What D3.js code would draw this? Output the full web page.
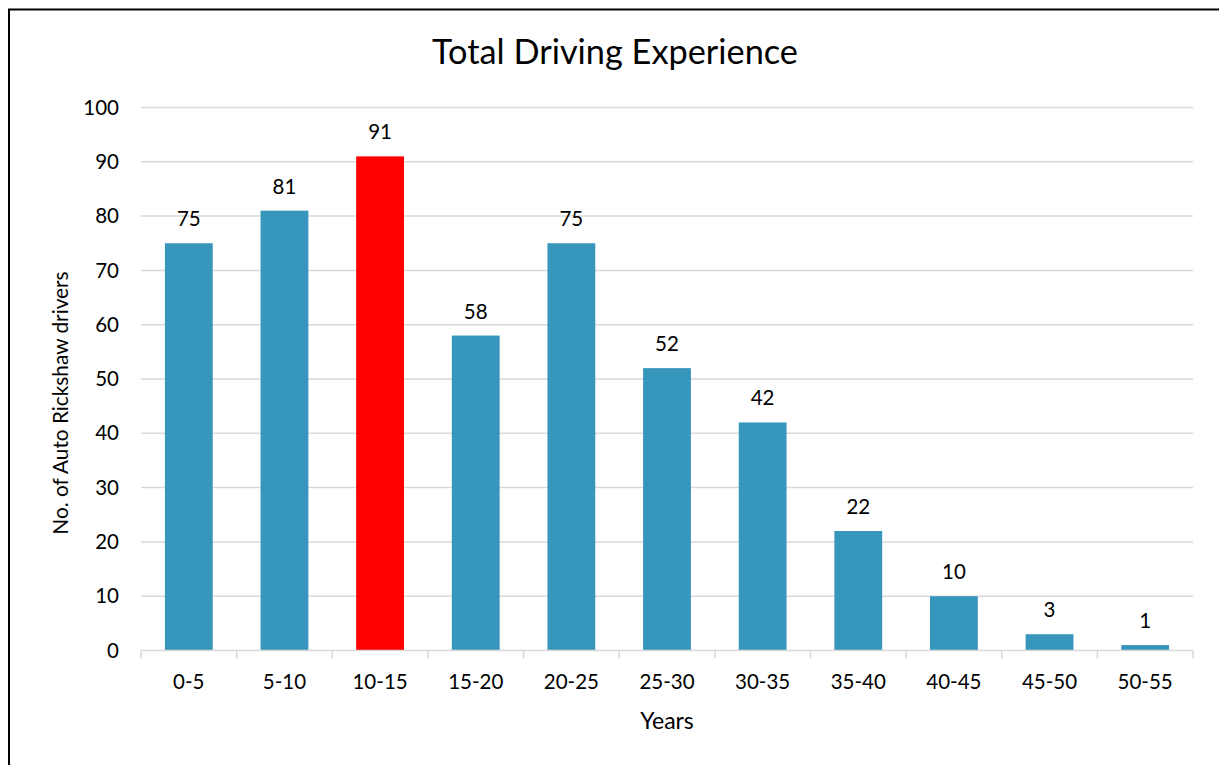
<!DOCTYPE html>
<html>
<head>
<meta charset="utf-8">
<script src="https://cdn.jsdelivr.net/npm/d3@7"></script>
<style>
  body { margin: 0; background: #fff; }
  text { font-family: Lato, "Open Sans", sans-serif; fill: #000; }
</style>
</head>
<body>
<div id="viz"></div>
<script>
const categories = ["0-5", "5-10", "10-15", "15-20", "20-25", "25-30", "30-35", "35-40", "40-45", "45-50", "50-55"];
const values = [75, 81, 91, 58, 75, 52, 42, 22, 10, 3, 1];
const highlight = "10-15";
const yTicks = [0, 10, 20, 30, 40, 50, 60, 70, 80, 90, 100];

const width = 1219;
const height = 765;
const margin = { left: 141, right: 26, top: 107.5, bottom: 114.5 };

const svg = d3.select("#viz").append("svg")
    .attr("width", width)
    .attr("height", height);

// chart border
svg.append("rect")
    .attr("x", 9).attr("y", 9.5)
    .attr("width", 1230).attr("height", 800)
    .attr("fill", "none")
    .attr("stroke", "#000")
    .attr("stroke-width", 2);

const x = d3.scaleBand()
    .domain(categories)
    .range([margin.left, width - margin.right])
    .paddingInner(0.5)
    .paddingOuter(0.25);

const y = d3.scaleLinear()
    .domain([0, 100])
    .range([height - margin.bottom, margin.top]);

// gridlines
svg.append("g")
    .selectAll("line")
    .data(yTicks.filter(d => d > 0))
    .enter()
    .append("line")
    .attr("x1", margin.left)
    .attr("x2", width - margin.right)
    .attr("y1", d => y(d))
    .attr("y2", d => y(d))
    .attr("stroke", "#d9d9d9")
    .attr("stroke-width", 1.5);

// y labels
svg.append("g")
    .selectAll("text")
    .data(yTicks)
    .enter()
    .append("text")
    .attr("x", margin.left - 22)
    .attr("y", d => y(d))
    .attr("dy", "0.35em")
    .attr("text-anchor", "end")
    .style("font-size", "20.5px")
    .text(d => d);

// bars
svg.append("g")
    .selectAll("rect")
    .data(categories)
    .enter()
    .append("rect")
    .attr("x", d => x(d))
    .attr("width", x.bandwidth())
    .attr("y", (d, i) => y(values[i]))
    .attr("height", (d, i) => y(0) - y(values[i]))
    .attr("fill", d => d === highlight ? "#ff0000" : "#3796bc");

// value labels
svg.append("g")
    .selectAll("text")
    .data(categories)
    .enter()
    .append("text")
    .attr("x", d => x(d) + x.bandwidth() / 2)
    .attr("y", (d, i) => y(values[i]) - 17)
    .attr("text-anchor", "middle")
    .style("font-size", "20.5px")
    .text((d, i) => values[i]);

// x axis line and ticks
const step = x.step();
const xAxis = svg.append("g");
xAxis.append("line")
    .attr("x1", margin.left).attr("x2", width - margin.right)
    .attr("y1", y(0)).attr("y2", y(0))
    .attr("stroke", "#d9d9d9").attr("stroke-width", 1.5);
xAxis.selectAll(".tk")
    .data(d3.range(categories.length + 1))
    .enter()
    .append("line")
    .attr("x1", i => margin.left + i * step)
    .attr("x2", i => margin.left + i * step)
    .attr("y1", y(0)).attr("y2", y(0) + 8)
    .attr("stroke", "#d9d9d9").attr("stroke-width", 1.5);
xAxis.selectAll("text")
    .data(categories)
    .enter()
    .append("text")
    .attr("x", d => x(d) + x.bandwidth() / 2)
    .attr("y", y(0) + 38)
    .attr("text-anchor", "middle")
    .style("font-size", "20.5px")
    .text(d => d);

// titles
svg.append("text")
    .attr("x", 615).attr("y", 64)
    .attr("text-anchor", "middle")
    .style("font-size", "34.3px")
    .text("Total Driving Experience");

svg.append("text")
    .attr("x", 667).attr("y", 729)
    .attr("text-anchor", "middle")
    .style("font-size", "23px")
    .text("Years");

svg.append("text")
    .attr("transform", "translate(68,403) rotate(-90)")
    .attr("text-anchor", "middle")
    .style("font-size", "20.8px")
    .text("No. of Auto Rickshaw drivers");
</script>
</body>
</html>
